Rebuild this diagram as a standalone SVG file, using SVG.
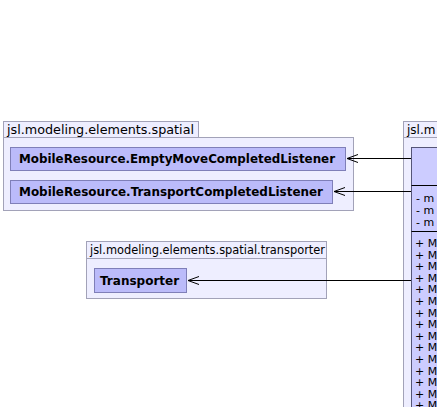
<svg xmlns="http://www.w3.org/2000/svg" width="437" height="407" viewBox="0 0 437 407">
<defs>
<style>
.pkg{fill:#EEEEFF;stroke:#A2A2B8;stroke-width:1}
.cls{fill:#BBBBFA;stroke:#7F7FB8;stroke-width:1}
.cls2{fill:#CCCCFF;stroke:#555577;stroke-width:1}
.sep{stroke:#000;stroke-width:1}
.ptxt{font-family:"DejaVu Sans",sans-serif;font-size:12px;fill:#000}
.ctxt{font-family:"DejaVu Sans",sans-serif;font-size:12px;font-weight:bold;fill:#000}
.mtxt{font-family:"DejaVu Sans",sans-serif;font-size:11px;fill:#000}
.conn{stroke:#000;stroke-width:1;fill:none}
</style>
</defs>
<g id="pkg-spatial">
<rect class="pkg" x="3.5" y="121.5" width="195" height="16"/>
<rect class="pkg" x="3.5" y="137.5" width="350" height="73"/>
<text class="ptxt" x="7" y="134" textLength="187" lengthAdjust="spacingAndGlyphs">jsl.modeling.elements.spatial</text>
</g>
<g id="node-emptymove">
<rect class="cls" x="10.5" y="147.5" width="335" height="23"/>
<text class="ctxt" x="19" y="163" textLength="316" lengthAdjust="spacingAndGlyphs">MobileResource.EmptyMoveCompletedListener</text>
</g>
<g id="node-transportcompleted">
<rect class="cls" x="10.5" y="180.5" width="322" height="23"/>
<text class="ctxt" x="19" y="196" textLength="304" lengthAdjust="spacingAndGlyphs">MobileResource.TransportCompletedListener</text>
</g>
<g id="pkg-transporter">
<rect class="pkg" x="86.5" y="241.5" width="240" height="17"/>
<rect class="pkg" x="86.5" y="258.5" width="240" height="40"/>
<text class="ptxt" x="90" y="254" textLength="235" lengthAdjust="spacingAndGlyphs">jsl.modeling.elements.spatial.transporter</text>
</g>
<g id="node-transporter">
<rect class="cls" x="94.5" y="268.5" width="92" height="24"/>
<text class="ctxt" x="100" y="285">Transporter</text>
</g>
<g id="pkg-right">
<rect class="pkg" x="403.5" y="121.5" width="60" height="16"/>
<rect class="pkg" x="403.5" y="137.5" width="60" height="280"/>
<text class="ptxt" x="407" y="134">jsl.m</text>
</g>
<g id="node-right">
<rect class="cls2" x="411.5" y="147.5" width="60" height="270"/>
<line class="sep" x1="411.5" y1="185.5" x2="437" y2="185.5"/>
<line class="sep" x1="411.5" y1="231.5" x2="437" y2="231.5"/>
<text class="mtxt" x="416" y="202">- m</text>
<text class="mtxt" x="416" y="214">- m</text>
<text class="mtxt" x="416" y="226">- m</text>
<text class="mtxt" x="415" y="247">+ M</text>
<text class="mtxt" x="415" y="258.6">+ M</text>
<text class="mtxt" x="415" y="270.2">+ M</text>
<text class="mtxt" x="415" y="281.8">+ M</text>
<text class="mtxt" x="415" y="293.4">+ M</text>
<text class="mtxt" x="415" y="305">+ M</text>
<text class="mtxt" x="415" y="316.6">+ M</text>
<text class="mtxt" x="415" y="328.2">+ M</text>
<text class="mtxt" x="415" y="339.8">+ M</text>
<text class="mtxt" x="415" y="351.4">+ M</text>
<text class="mtxt" x="415" y="363">+ M</text>
<text class="mtxt" x="415" y="374.6">+ M</text>
<text class="mtxt" x="415" y="386.2">+ M</text>
<text class="mtxt" x="415" y="397.8">+ M</text>
<text class="mtxt" x="415" y="409.4">+ M</text>
</g>
<g id="connectors">
<path class="conn" d="M411,158.5 H347 M358,154.5 L347,158.5 L358,162.5"/>
<path class="conn" d="M411,191.5 H334 M345,187.5 L334,191.5 L345,195.5"/>
<path class="conn" d="M411,280.5 H188 M199,276.5 L188,280.5 L199,284.5"/>
</g>
</svg>
